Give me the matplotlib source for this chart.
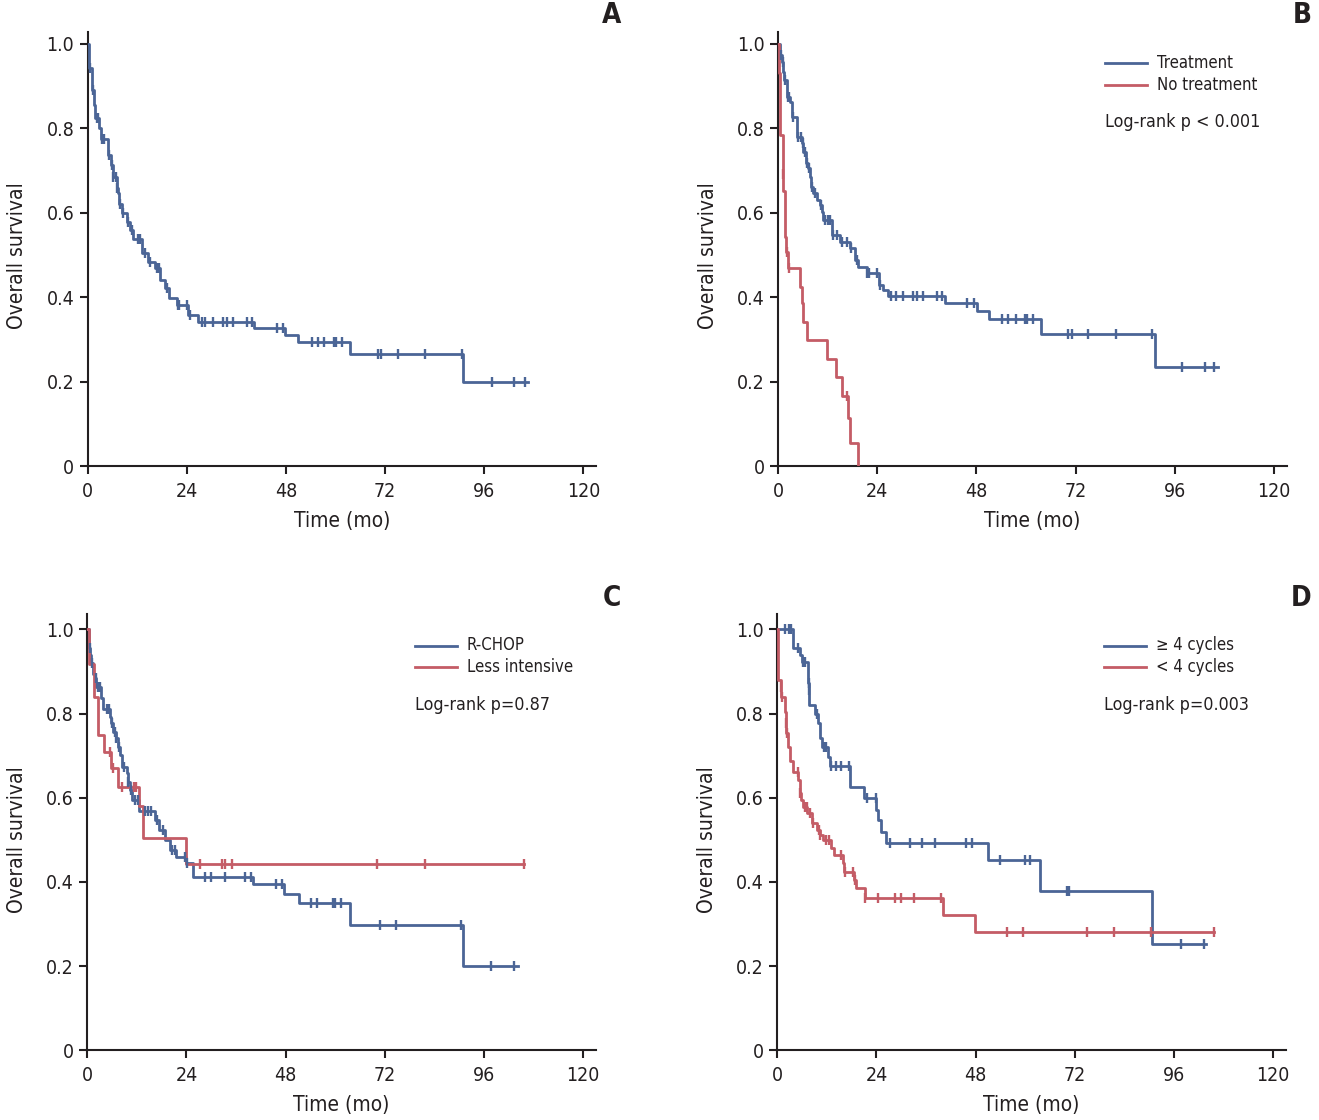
import os
import numpy as np
import matplotlib
matplotlib.use("Agg")
import matplotlib.pyplot as plt
from matplotlib import font_manager as fm

# ---- choose a condensed sans face if one is installed ----
def find_font(patterns, bold=False):
    files = [f.fname for f in fm.fontManager.ttflist]
    files += fm.findSystemFonts()
    for pat in patterns:
        for fn in files:
            b = os.path.basename(fn).lower().replace('_', '').replace('-', '')
            if pat in b:
                isbold = 'bold' in b
                if isbold == bold and 'italic' not in b and 'oblique' not in b:
                    return fn
    return None

REG = find_font(['liberationsansnarrowregular', 'liberationsansnarrow',
                 'dejavusanscondensed', 'robotocondensedregular', 'robotocondensed',
                 'opensanscondensed', 'notosanscondensed', 'arialnarrow'])
BOLD = find_font(['liberationsansnarrowbold', 'dejavusanscondensedbold',
                  'robotocondensedbold', 'notosanscondensedbold'], bold=True)


def FP(size, bold=False):
    fn = BOLD if bold else REG
    if fn:
        return fm.FontProperties(fname=fn, size=size)
    return fm.FontProperties(family=['DejaVu Sans'], size=size * 0.88,
                             weight='bold' if bold else 'normal')


BLUE = '#4b6596'
RED = '#c45c66'
INK = '#231f20'

x_ticks = [0, 24, 48, 72, 96, 120]
x_ticklabels = ['0', '24', '48', '72', '96', '120']
y_ticks = [0, 0.2, 0.4, 0.6, 0.8, 1.0]
y_ticklabels = ['0', '0.2', '0.4', '0.6', '0.8', '1.0']

# ---------------- Panel A: all patients ----------------
A_t = [0.45, 1.0, 1.5, 1.8, 2.9, 3.2, 5.0, 5.6, 6.1, 7.1, 7.5, 7.7, 8.3, 9.5, 10.3,
       11.1, 13.1, 14.7, 16.3, 17.5, 18.8, 19.6, 21.6, 24.4, 26.8, 40.4, 47.8, 51.0,
       63.5, 90.8]
A_s = [0.942, 0.891, 0.855, 0.824, 0.800, 0.775, 0.737, 0.713, 0.685, 0.658, 0.646,
       0.622, 0.599, 0.579, 0.559, 0.538, 0.504, 0.484, 0.469, 0.441, 0.421, 0.398,
       0.382, 0.358, 0.342, 0.327, 0.311, 0.295, 0.265, 0.200]
A_cens = [0.6, 1.4, 2.2, 2.6, 3.4, 4.0, 5.3, 5.9, 6.2, 6.9, 7.2, 7.9, 8.5, 9.9, 10.7,
          12.1, 12.7, 13.9, 15.1, 16.7, 17.4, 19.3, 21.8, 22.1, 24.1, 24.8, 27.6, 28.4,
          30.4, 32.7, 33.7, 35.3, 38.5, 39.7, 45.8, 47.4, 54.2, 55.7, 57.3, 59.6, 60.1,
          61.5, 70.4, 70.9, 75.1, 81.7, 90.5, 97.8, 103.3, 105.9]
A_end = 106.7

# ---------------- Panel B: treatment vs no treatment ----------------
B_treat_t = [0.5, 0.9, 1.3, 1.5, 2.1, 2.9, 3.3, 4.5, 5.7, 6.1, 6.8, 7.3, 7.7, 8.1, 8.4,
             9.4, 10.2, 10.6, 11.0, 13.0, 15.0, 17.4, 18.6, 19.4, 21.5, 24.4, 25.5, 26.6,
             40.4, 48.1, 51.1, 63.6, 91.1]
B_treat_s = [0.973, 0.958, 0.934, 0.914, 0.875, 0.863, 0.827, 0.780, 0.765, 0.745, 0.717,
             0.705, 0.685, 0.662, 0.646, 0.630, 0.618, 0.603, 0.583, 0.547, 0.532, 0.516,
             0.488, 0.472, 0.457, 0.429, 0.417, 0.404, 0.386, 0.368, 0.349, 0.312, 0.236]
B_treat_cens = [0.7, 1.1, 1.7, 2.5, 2.7, 3.7, 4.9, 5.5, 6.0, 6.5, 7.1, 7.6, 8.2, 8.9,
                10.4, 11.4, 12.2, 12.6, 13.4, 14.2, 15.4, 16.8, 17.6, 19.2, 21.6, 21.9,
                24.0, 24.7, 27.3, 28.5, 30.3, 32.6, 33.6, 35.2, 38.4, 39.6, 45.8, 47.4,
                54.3, 55.7, 57.5, 59.8, 60.2, 61.6, 70.2, 71.1, 75.1, 81.7, 90.4, 97.7,
                103.3, 105.6]
B_treat_end = 106.5

B_none_t = [0.2, 0.4, 0.6, 1.1, 1.3, 1.6, 2.0, 2.3, 5.3, 5.7, 6.0, 7.1, 11.8, 14.0,
            15.6, 17.0, 17.4, 19.4]
B_none_s = [0.93, 0.86, 0.784, 0.693, 0.652, 0.543, 0.508, 0.469, 0.425, 0.386, 0.342,
            0.299, 0.254, 0.212, 0.166, 0.114, 0.054, 0.0]
B_none_cens = [1.2, 2.1, 2.6, 16.6]
B_none_end = 19.4

# ---------------- Panel C: R-CHOP vs less intensive ----------------
C_rchop_t = [0.44, 0.77, 1.0, 1.4, 1.8, 2.2, 3.2, 3.4, 3.8, 5.6, 5.8, 6.2, 6.9, 7.5,
             7.9, 8.3, 9.5, 9.9, 10.3, 10.7, 12.5, 16.3, 17.4, 18.7, 20.1, 21.4, 23.8,
             25.6, 40.0, 47.5, 51.2, 63.5, 90.8]
C_rchop_s = [0.955, 0.939, 0.919, 0.895, 0.884, 0.864, 0.848, 0.836, 0.810, 0.792, 0.777,
             0.757, 0.741, 0.721, 0.701, 0.674, 0.658, 0.638, 0.618, 0.595, 0.569, 0.547,
             0.523, 0.500, 0.476, 0.460, 0.444, 0.412, 0.394, 0.371, 0.349, 0.298, 0.200]
C_rchop_cens = [0.6, 1.2, 2.0, 2.6, 3.0, 4.8, 5.2, 6.0, 6.6, 7.0, 7.7, 8.8, 9.9, 10.5,
                11.5, 12.3, 13.9, 14.7, 15.5, 16.9, 18.3, 20.4, 21.2, 23.6, 24.2, 28.4,
                30.0, 33.3, 38.1, 39.7, 45.6, 47.2, 54.2, 55.5, 59.5, 59.9, 61.5, 70.9,
                74.8, 90.5, 97.6, 103.2]
C_rchop_end = 104.2

C_less_t = [0.4, 1.6, 2.6, 4.0, 5.8, 7.5, 12.5, 13.5, 24.0]
C_less_s = [0.917, 0.84, 0.749, 0.709, 0.670, 0.626, 0.58, 0.504, 0.442]
C_less_cens = [5.4, 6.2, 8.5, 11.3, 11.9, 27.2, 32.5, 33.3, 34.9, 70.1, 81.7, 105.7]
C_less_end = 105.7

# ---------------- Panel D: >=4 cycles vs <4 cycles ----------------
D_ge4_t = [3.8, 5.4, 5.9, 7.5, 7.6, 7.7, 9.1, 9.9, 10.3, 10.9, 12.3, 12.7, 17.5, 20.9,
           24.0, 24.4, 25.2, 26.4, 51.0, 63.5, 90.7]
D_ge4_s = [0.955, 0.939, 0.923, 0.872, 0.856, 0.820, 0.800, 0.777, 0.741, 0.721, 0.697,
           0.675, 0.626, 0.599, 0.571, 0.547, 0.519, 0.492, 0.452, 0.378, 0.252]
D_ge4_cens = [1.8, 2.9, 3.4, 5.0, 6.1, 6.6, 7.55, 7.65, 9.5, 11.3, 11.8, 13.1, 14.3, 15.3,
              17.4, 21.6, 23.8, 27.2, 32.2, 35.0, 38.1, 45.6, 47.2, 54.0, 59.9, 61.1,
              70.0, 70.6, 97.6, 103.2]
D_ge4_end = 103.8

D_lt4_t = [0.2, 0.8, 1.0, 1.8, 2.0, 2.2, 2.6, 3.0, 3.7, 5.0, 5.4, 5.8, 6.2, 7.3, 8.3,
           9.5, 10.3, 11.1, 13.1, 13.7, 15.9, 16.1, 18.6, 19.0, 21.2, 40.1, 47.8]
D_lt4_s = [0.880, 0.864, 0.840, 0.804, 0.777, 0.753, 0.721, 0.686, 0.662, 0.642, 0.610,
           0.595, 0.579, 0.563, 0.539, 0.523, 0.511, 0.500, 0.480, 0.464, 0.444, 0.424,
           0.405, 0.385, 0.361, 0.321, 0.282]
D_lt4_cens = [0.9, 1.2, 2.1, 2.4, 4.9, 5.6, 6.6, 7.1, 7.9, 8.6, 10.1, 10.4, 11.9, 12.5,
              15.4, 16.3, 18.3, 18.8, 21.3, 24.4, 28.4, 30.0, 33.1, 39.7, 55.6, 59.5,
              75.0, 81.5, 90.5, 105.7]
D_lt4_end = 105.7

W, H = 1319, 1120
fig = plt.figure(figsize=(W / 100, H / 100), dpi=100)


def make_ax(left_px, top_px, bottom_px, right_px, px_per_unit):
    ax = fig.add_axes([left_px / W, 1 - bottom_px / H,
                       (right_px - left_px) / W, (bottom_px - top_px) / H])
    ax.set_xlim(0, (right_px - left_px) / 4.133)
    ax.set_ylim(0, (bottom_px - top_px) / px_per_unit)
    for sp in ['top', 'right']:
        ax.spines[sp].set_visible(False)
    for sp in ['left', 'bottom']:
        ax.spines[sp].set_linewidth(1.5)
        ax.spines[sp].set_color(INK)
    ax.set_xticks(x_ticks)
    ax.set_xticklabels(x_ticklabels, fontproperties=FP(14))
    ax.set_yticks(y_ticks)
    ax.set_yticklabels(y_ticklabels, fontproperties=FP(14))
    ax.tick_params(length=5.5, width=1.5, colors=INK)
    ax.tick_params(axis='y', pad=4)
    ax.tick_params(axis='x', pad=6)
    ax.set_xlabel('Time (mo)', fontproperties=FP(15), color=INK)
    ax.set_ylabel('Overall survival', fontproperties=FP(15), color=INK)
    h = bottom_px - top_px
    ax.xaxis.set_label_coords(0.5, -(510.5 - 466.3) / h)
    ax.yaxis.set_label_coords(-(87.5 - 27) / 508.5, 0.484)
    return ax


def km(ax, t, s, cens, end, color):
    t = np.asarray(t, float)
    s = np.asarray(s, float)
    x = np.concatenate([[0.0], t, [end]])
    y = np.concatenate([[1.0], s, [s[-1]]])
    ax.step(x, y, where='post', color=color, lw=2.0, zorder=3)
    cens = np.asarray(cens, float)
    idx = np.searchsorted(t, cens, side='right')
    lev = np.concatenate([[1.0], s])[idx]
    ax.plot(cens, lev, ls='none', marker='|', ms=6.5, mew=1.7, color=color, zorder=4)


def legend(ax, x_px, y1_px, labels, logrank, logrank_y_px, left_px, bottom_px, top_px):
    h = bottom_px - top_px
    w = 508.5
    for i, (lab, col) in enumerate(zip(labels, [BLUE, RED])):
        yy = (bottom_px - (y1_px + 21.5 * i)) / h
        x0 = (x_px - left_px) / w
        x1 = (x_px + 42 - left_px) / w
        ax.plot([x0, x1], [yy, yy], transform=ax.transAxes, color=col, lw=2.0,
                clip_on=False)
        ax.text((x_px + 52 - left_px) / w, yy, lab, transform=ax.transAxes,
                fontproperties=FP(12), va='center', ha='left', color=INK)
    ax.text((x_px - left_px) / w, (bottom_px - logrank_y_px) / h, logrank,
            transform=ax.transAxes, fontproperties=FP(12.8), va='center', ha='left',
            color=INK)


# Panel A
axA = make_ax(87.5, 32, 466.3, 596, 422.5)
km(axA, A_t, A_s, A_cens, A_end, BLUE)

# Panel B
axB = make_ax(778, 32, 466.3, 1286.5, 422.5)
km(axB, B_treat_t, B_treat_s, B_treat_cens, B_treat_end, BLUE)
km(axB, B_none_t, B_none_s, B_none_cens, B_none_end, RED)
legend(axB, 1105, 63, ['Treatment', 'No treatment'], 'Log-rank p < 0.001', 122,
       778, 466.3, 32)

# Panel C
axC = make_ax(87.3, 614, 1050.3, 595.8, 421)
km(axC, C_rchop_t, C_rchop_s, C_rchop_cens, C_rchop_end, BLUE)
km(axC, C_less_t, C_less_s, C_less_cens, C_less_end, RED)
legend(axC, 415, 645.5, ['R-CHOP', 'Less intensive'], 'Log-rank p=0.87', 705,
       87.3, 1050.3, 614)

# Panel D
axD = make_ax(777.3, 614, 1050.3, 1285.8, 421)
km(axD, D_ge4_t, D_ge4_s, D_ge4_cens, D_ge4_end, BLUE)
km(axD, D_lt4_t, D_lt4_s, D_lt4_cens, D_lt4_end, RED)
legend(axD, 1104, 645.5, ['\u2265 4 cycles', '< 4 cycles'], 'Log-rank p=0.003', 705,
       777.3, 1050.3, 614)

for letter, (px, py) in zip('ABCD', [(612, 15), (1302, 15), (612, 598), (1301, 598)]):
    fig.text(px / W, 1 - py / H, letter, fontproperties=FP(20, bold=True),
             ha='center', va='center', color=INK)

fig.savefig('out.png', dpi=100)
